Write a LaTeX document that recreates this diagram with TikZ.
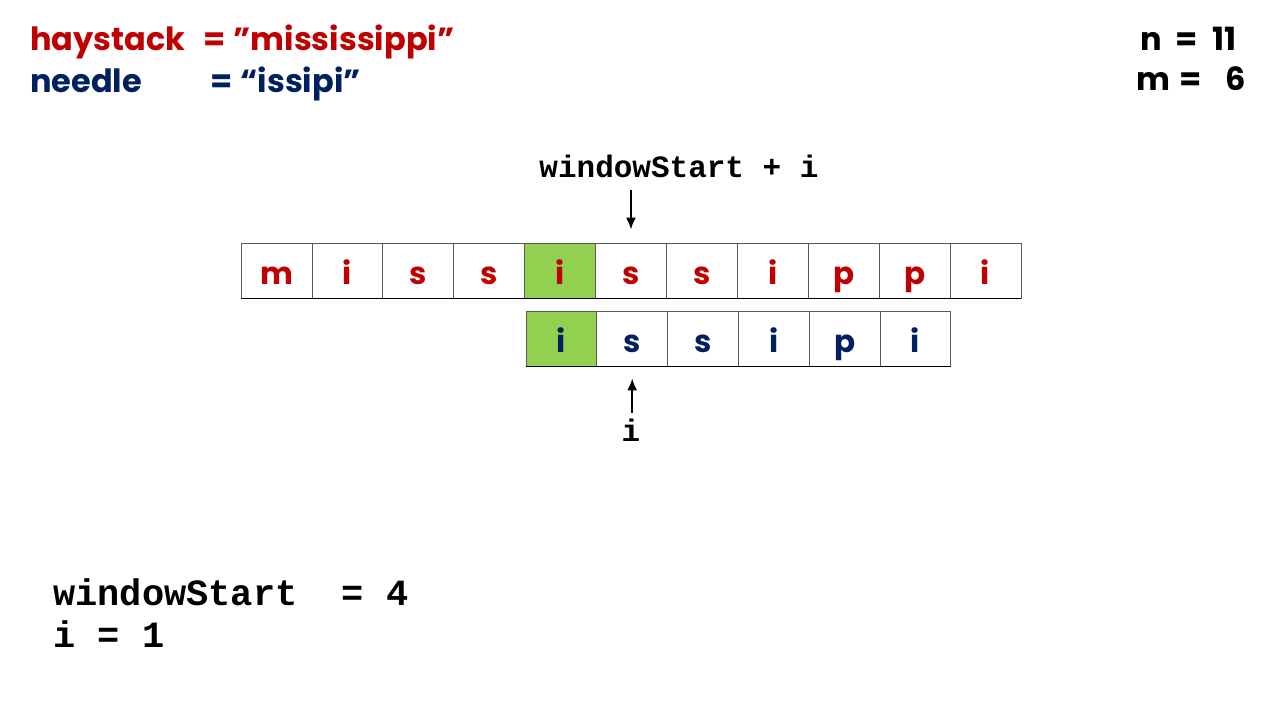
\documentclass[tikz,border=0pt]{standalone}
\usepackage{fontspec}
\setmainfont{Poppins}
\newfontfamily\cmono{Liberation Mono}
\usetikzlibrary{arrows.meta}
\definecolor{hred}{HTML}{C00000}
\definecolor{nblue}{HTML}{002060}
\definecolor{cgreen}{HTML}{92D050}
\tikzset{
  cell/.style={draw=gray!70!black, line width=0.8pt, minimum width=70.9pt, minimum height=55pt, inner sep=0pt, text height=28pt, text depth=0pt, font=\fontsize{31}{36}\selectfont\bfseries, anchor=center},
  hcell/.style={cell, text=hred},
  ncell/.style={cell, text=nblue},
  hit/.style={fill=cgreen},
  title/.style={font=\fontsize{32}{38}\selectfont\bfseries, inner sep=0pt, anchor=base west},
  code/.style={font=\cmono\bfseries\fontsize{31}{36}\selectfont, inner sep=0pt},
  bigcode/.style={font=\cmono\bfseries\fontsize{37}{42}\selectfont, inner sep=0pt, anchor=base west},
  ptr/.style={line width=2pt, -{Latex[length=12pt,width=10pt]}}
}
\begin{document}
\begin{tikzpicture}[x=1pt,y=-1pt]
\useasboundingbox (0,0) rectangle (1280,720);
% header
\node[title, text=hred] (hay) at (30,50) {haystack};
\node[title, text=hred] (hayv) at (203,50) {=\hspace{8pt}"mississippi"};
\node[title, text=nblue] (nee) at (30,92) {needle};
\node[title, text=nblue] (neev) at (210,92) {=\hspace{8pt}“issipi”};
\node[title] (nval) at (1140,50) {n\hspace{14pt}=\hspace{14pt}11};
\node[title] (mval) at (1136,90) {m\hspace{9pt}=\hspace{24pt}6};
% haystack cells
\foreach \c [count=\k from 0] in {m,i,s,s,i,s,s,i,p,p,i}{
  \node[hcell] (h\k) at ({241+70.9*\k+35.45},270.5) {\c};
}
\node[hcell, hit] (h4) at ({241+70.9*4+35.45},270.5) {i};
\draw[line width=1pt] (h0.south west) -- (h10.south east);
% needle cells
\foreach \c [count=\k from 0] in {i,s,s,i,p,i}{
  \node[ncell] (n\k) at ({526+70.8*\k+35.4},338.5) {\c};
}
\node[ncell, hit] (n0) at ({526+35.4},338.5) {i};
\draw[line width=1pt] (n0.south west) -- (n5.south east);
% pointers
\node[code] (ws) at (679,166) {windowStart + i};
\draw[ptr] ([yshift=-12pt]ws.south -| h5.north) -- ([yshift=13pt]h5.north);
\node[code] (il) at (631,430) {i};
\draw[ptr] ([yshift=6pt]il.north -| n1.south) -- ([yshift=-12pt]n1.south);
% state
\node[bigcode] (wsv) at (53,605) {windowStart\ \ = 4};
\node[bigcode] (iv) at (53,647) {i = 1};
\end{tikzpicture}
\end{document}
